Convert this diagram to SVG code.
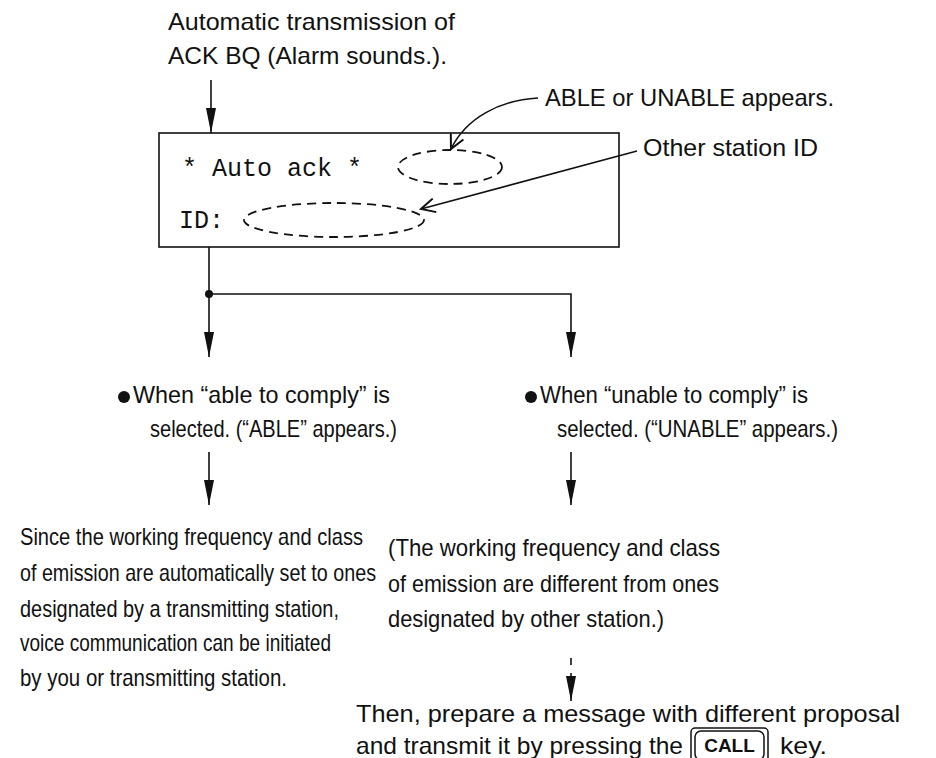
<svg xmlns="http://www.w3.org/2000/svg" width="936" height="758" viewBox="0 0 936 758">
<style>
  .t { font-family: "Liberation Sans", Arial, Helvetica, sans-serif; font-size: 24px; fill: #111; }
  .n { font-family: "Liberation Sans Narrow", "Liberation Sans", Arial, sans-serif; font-size: 24px; fill: #111; }
  .m { font-family: "Liberation Mono", "Courier New", monospace; font-size: 25px; fill: #111; }
  .ln { fill: none; stroke: #111; stroke-width: 1.6; }
  .dash { fill: none; stroke: #111; stroke-width: 1.8; stroke-dasharray: 9 6; }
</style>
<defs>
  <marker id="ah" markerWidth="25" markerHeight="10" refX="25" refY="5" orient="auto" markerUnits="userSpaceOnUse" viewBox="0 0 25 10">
    <path d="M0,0 L25,5 L0,10 Z" fill="#111"/>
  </marker>
  <marker id="open" markerWidth="18" markerHeight="16" refX="15" refY="8" orient="auto" markerUnits="userSpaceOnUse" viewBox="0 0 18 16">
    <path d="M1,1 L15,8 L1,15" fill="none" stroke="#111" stroke-width="2"/>
  </marker>
</defs>
<rect width="936" height="758" fill="#fff"/>

<g id="top-text">
  <text class="t" x="168" y="30" textLength="287" lengthAdjust="spacingAndGlyphs">Automatic transmission of</text>
  <text class="t" x="168" y="64" textLength="279" lengthAdjust="spacingAndGlyphs">ACK BQ (Alarm sounds.).</text>
</g>

<g id="display">
  <rect x="159" y="133" width="460" height="114" fill="none" stroke="#111" stroke-width="1.6"/>
  <text class="m" x="182" y="176">* Auto ack *</text>
  <text class="m" x="179" y="228">ID:</text>
  <ellipse class="dash" cx="450" cy="167" rx="52" ry="17"/>
  <ellipse class="dash" cx="334" cy="220" rx="90" ry="17"/>
</g>

<g id="label-able">
  <text class="t" x="545" y="106" textLength="289" lengthAdjust="spacingAndGlyphs">ABLE or UNABLE appears.</text>
</g>
<g id="label-id">
  <text class="t" x="643" y="156" textLength="175" lengthAdjust="spacingAndGlyphs">Other station ID</text>
</g>

<g id="able">
  <circle cx="124" cy="397" r="6" fill="#111"/>
  <text class="t" x="133" y="403" textLength="257" lengthAdjust="spacingAndGlyphs">When “able to comply” is</text>
  <text class="n" x="150" y="437" textLength="247" lengthAdjust="spacingAndGlyphs">selected. (“ABLE” appears.)</text>
</g>

<g id="unable">
  <circle cx="531" cy="397" r="6" fill="#111"/>
  <text class="t" x="540" y="403" textLength="268" lengthAdjust="spacingAndGlyphs">When “unable to comply” is</text>
  <text class="n" x="557" y="437" textLength="281" lengthAdjust="spacingAndGlyphs">selected. (“UNABLE” appears.)</text>
</g>

<g id="able-result">
  <text class="n" x="20" y="545" textLength="343" lengthAdjust="spacingAndGlyphs">Since the working frequency and class</text>
  <text class="n" x="20" y="581" textLength="356" lengthAdjust="spacingAndGlyphs">of emission are automatically set to ones</text>
  <text class="n" x="20" y="617" textLength="319" lengthAdjust="spacingAndGlyphs">designated by a transmitting station,</text>
  <text class="n" x="20" y="651" textLength="311" lengthAdjust="spacingAndGlyphs">voice communication can be initiated</text>
  <text class="n" x="20" y="686" textLength="267" lengthAdjust="spacingAndGlyphs">by you or transmitting station.</text>
</g>

<g id="unable-result">
  <text class="t" x="388" y="556" textLength="332" lengthAdjust="spacingAndGlyphs">(The working frequency and class</text>
  <text class="t" x="388" y="592" textLength="331" lengthAdjust="spacingAndGlyphs">of emission are different from ones</text>
  <text class="t" x="388" y="627" textLength="276" lengthAdjust="spacingAndGlyphs">designated by other station.)</text>
</g>

<g id="final">
  <text class="t" x="356" y="722" textLength="544" lengthAdjust="spacingAndGlyphs">Then, prepare a message with different proposal</text>
  <text class="t" x="356" y="754" textLength="327" lengthAdjust="spacingAndGlyphs">and transmit it by pressing the</text>
  <g id="call-key">
    <rect x="691" y="728" width="77" height="35" rx="4" fill="none" stroke="#111" stroke-width="1.5"/>
    <rect x="695" y="731" width="69" height="29" rx="6" fill="none" stroke="#111" stroke-width="1.5"/>
    <text x="729.5" y="752" text-anchor="middle" style="font-family:'Liberation Sans', Arial, sans-serif; font-weight:bold; font-size:19px; fill:#111">CALL</text>
  </g>
  <text class="t" x="780" y="754" textLength="47" lengthAdjust="spacingAndGlyphs">key.</text>
</g>

<g id="connectors">
  <line class="ln" x1="211" y1="80" x2="211" y2="133" marker-end="url(#ah)"/>
  <path class="ln" d="M538,98 C500,100 466,118 451,149" marker-end="url(#open)"/>
  <line class="ln" x1="637" y1="151" x2="421" y2="209" marker-end="url(#open)"/>
  <line class="ln" x1="209" y1="247" x2="209" y2="357" marker-end="url(#ah)"/>
  <polyline class="ln" points="209,294 571,294 571,357" marker-end="url(#ah)"/>
  <circle cx="209" cy="294" r="4" fill="#111"/>
  <line class="ln" x1="209" y1="452" x2="209" y2="505" marker-end="url(#ah)"/>
  <line class="ln" x1="571" y1="452" x2="571" y2="505" marker-end="url(#ah)"/>
  <line class="ln" x1="571" y1="658" x2="571" y2="665"/>
  <line class="ln" x1="571" y1="673" x2="571" y2="701" marker-end="url(#ah)"/>
</g>
</svg>
